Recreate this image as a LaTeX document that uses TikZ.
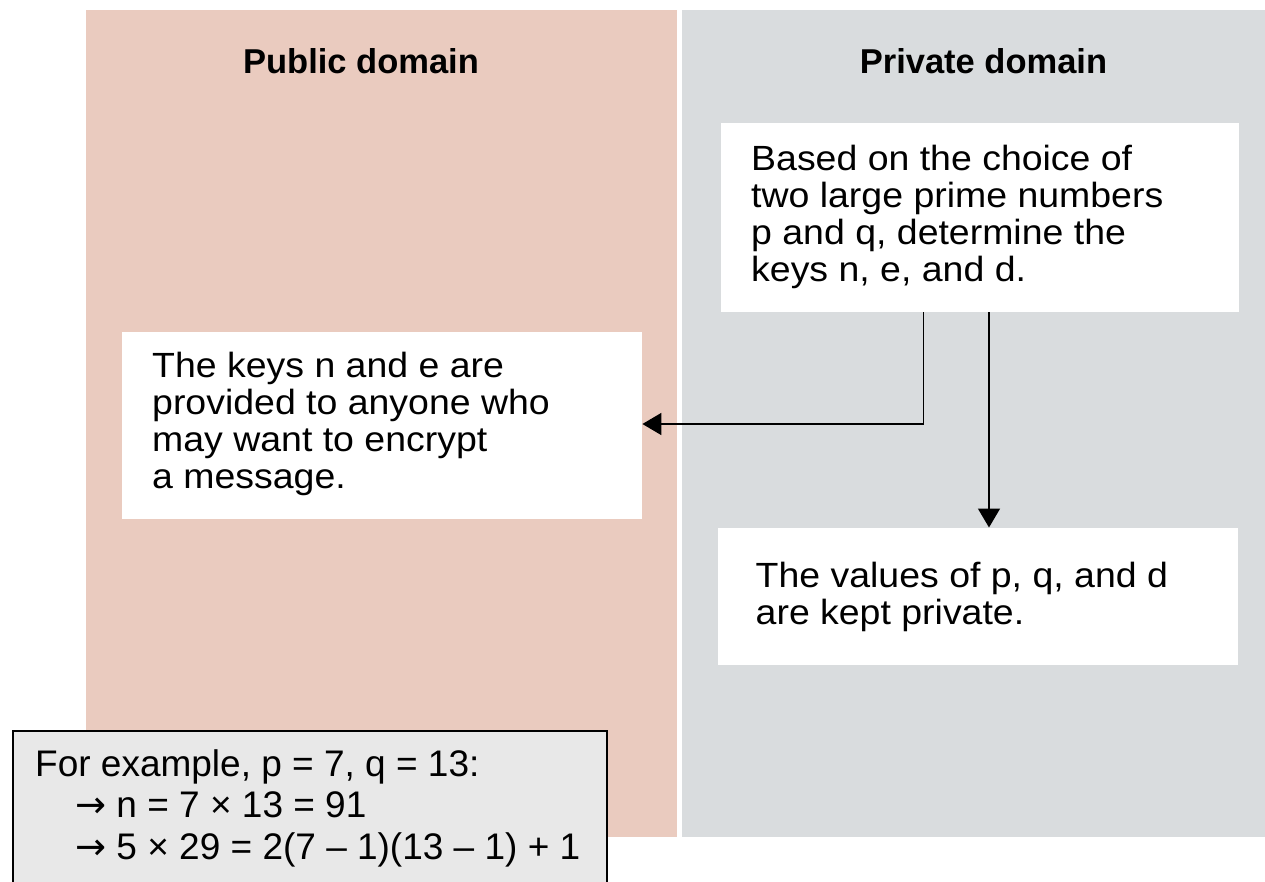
\documentclass[tikz,border=0pt]{standalone}
\usepackage{fontspec}
\setmainfont{Liberation Sans}
\newfontfamily\boxfont[FakeStretch=1.07]{Liberation Sans}
\newfontfamily\symf{DejaVu Sans}
\usetikzlibrary{arrows.meta}
\definecolor{pubcol}{RGB}{234,203,191}
\definecolor{privcol}{RGB}{217,220,222}
\definecolor{excol}{RGB}{232,232,232}
\newcommand{\rarr}{{\symf →}}
\begin{document}
\begin{tikzpicture}[x=1pt,y=-1pt,
  panel/.style={draw=none, inner sep=0pt, anchor=north west},
  wbox/.style={fill=white, draw=none, inner sep=0pt, anchor=north west},
  title/.style={inner sep=0pt, anchor=base, font=\fontsize{34.5}{40}\selectfont\bfseries},
  txt/.style={inner sep=0pt, anchor=base west, font=\boxfont\fontsize{35}{37}\selectfont},
  extxt/.style={inner sep=0pt, anchor=base west, font=\fontsize{37}{41.5}\selectfont},
  arr/.style={line width=1.6pt, -{Triangle[length=19pt,width=22pt]}}]
\useasboundingbox (0,0) rectangle (1265,881);
\fill[white] (0,0) rectangle (1265,881);
% panels
\node[panel, fill=pubcol, minimum width=591pt, minimum height=827pt] (pub) at (86,10) {};
\node[panel, fill=privcol, minimum width=584pt, minimum height=827pt] (priv) at (681.5,10) {};
\node[title] (pubt) at (361,73) {Public domain};
\node[title] (privt) at (983.5,73) {Private domain};
% boxes
\node[wbox, minimum width=518pt, minimum height=189pt] (b1) at (721,123) {};
\node[wbox, minimum width=520pt, minimum height=187pt] (b2) at (122,332) {};
\node[wbox, minimum width=520pt, minimum height=137.5pt] (b3) at (718,527.5) {};
\node[txt] (t1) at (751,170) {\parbox[t]{480pt}{Based on the choice of\\two large prime numbers\\p and q, determine the\\keys n, e, and d.}};
\node[txt] (t2) at (152,377) {\parbox[t]{480pt}{The keys n and e are\\provided to anyone who\\may want to encrypt\\a message.}};
\node[txt] (t3) at (755.5,587.5) {\parbox[t]{470pt}{The values of p, q, and d\\are kept private.}};
% connectors
\coordinate (k1) at (923.5,424);
\coordinate (k2) at (989,424);
\draw[arr] (b1.south -| k1) -- (k1) -- (b2.east |- k1);
\draw[arr] (b1.south -| k2) -- (b3.north -| k2);
% example box
\node[draw=black, line width=2pt, fill=excol, anchor=north west, inner sep=0pt, minimum width=594pt, minimum height=170pt] (ex) at (12,730) {};
\node[extxt] (ext) at (35,776) {\parbox[t]{620pt}{For example, p = 7, q = 13:\\
\hspace*{40pt}\rarr{} n = 7 × 13 = 91\\
\hspace*{40pt}\rarr{} 5 × 29 = 2(7 – 1)(13 – 1) + 1}};
\end{tikzpicture}
\end{document}
